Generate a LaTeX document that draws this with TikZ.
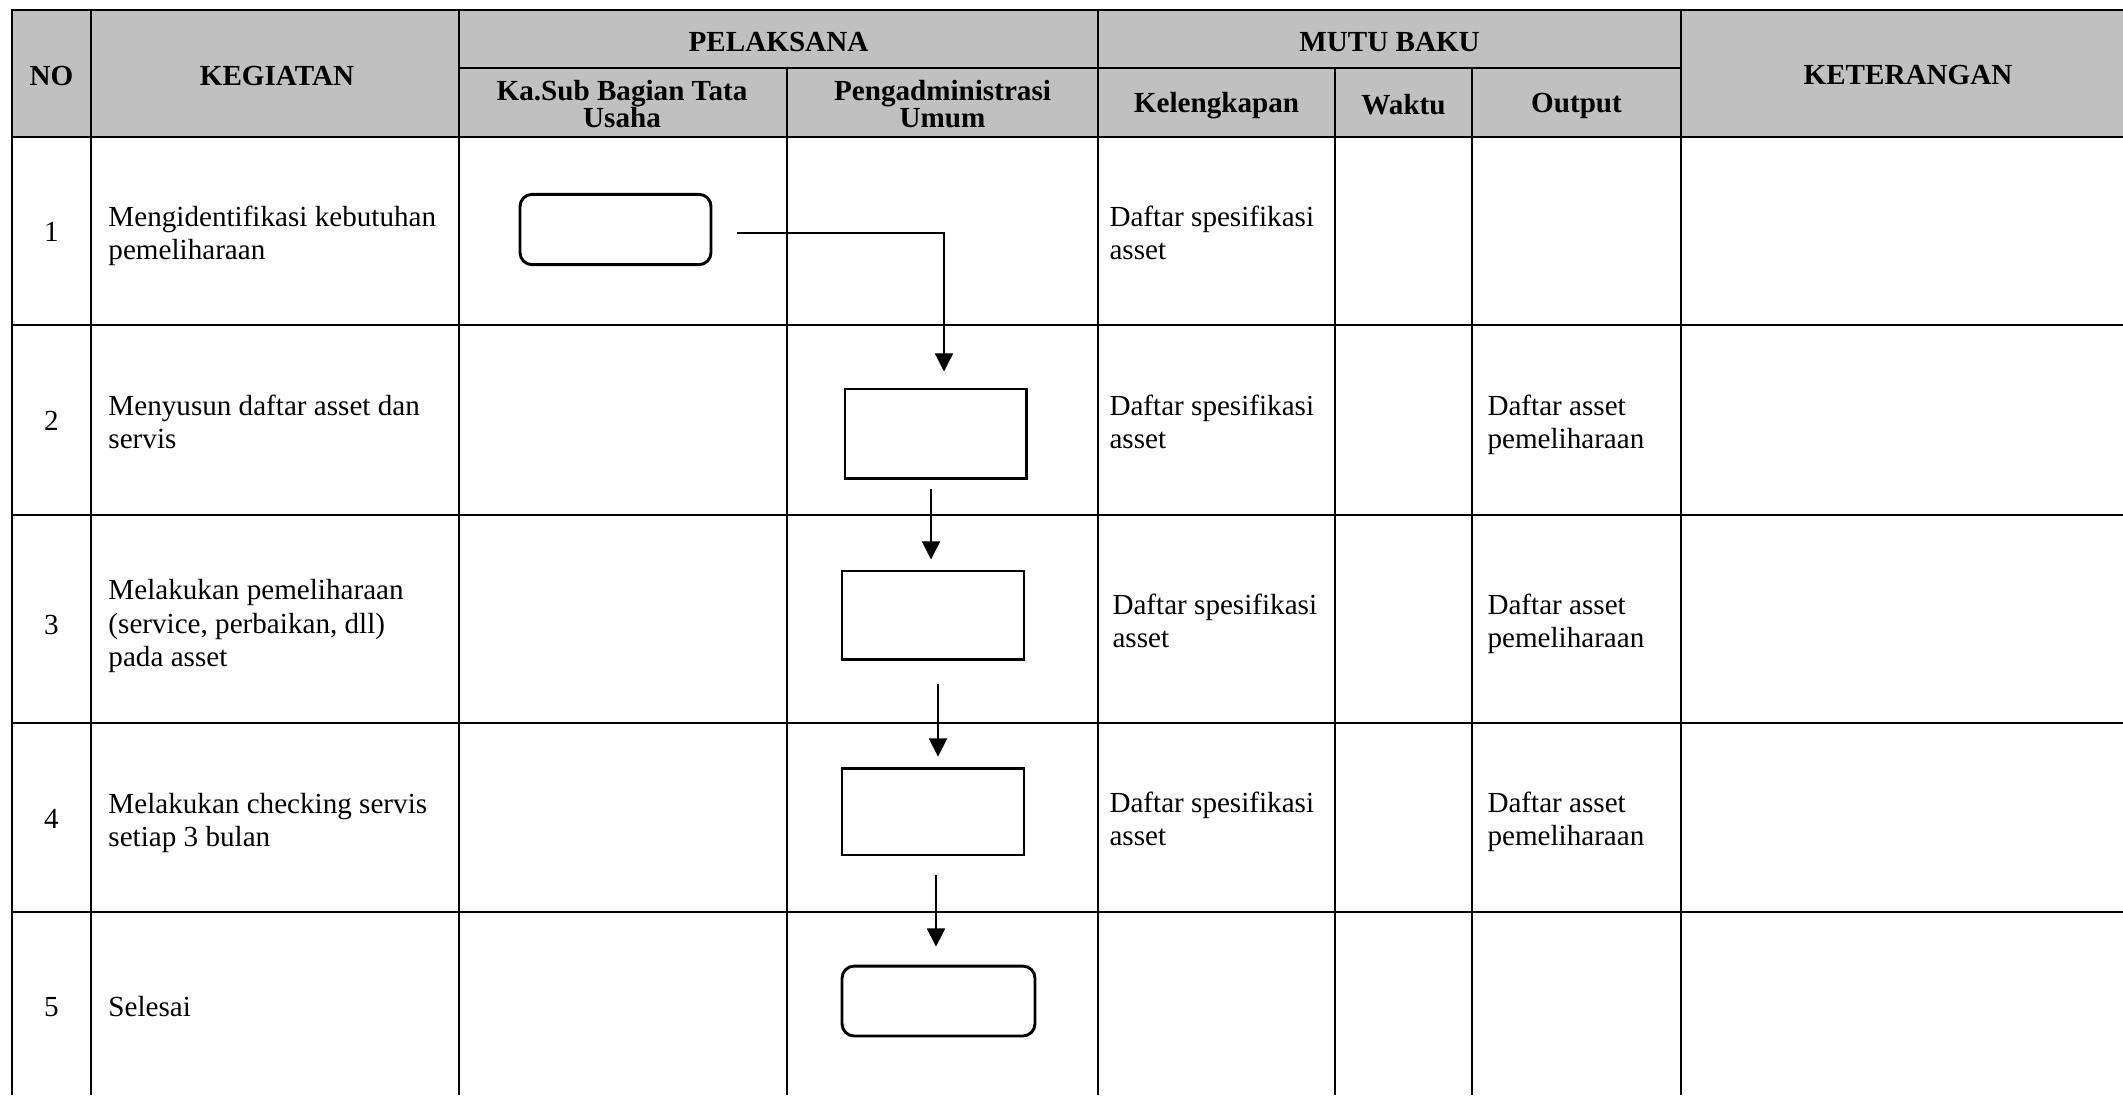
\documentclass[tikz,border=0pt]{standalone}
\usepackage{fontspec}
\setmainfont{Liberation Serif}
\usetikzlibrary{calc,arrows.meta}
\begin{document}
\begin{tikzpicture}[x=0.412pt,y=-0.412pt,
  font=\fontsize{12}{13.8}\selectfont,
  gridline/.style={line width=1pt},
  hdr/.style={font=\fontsize{12}{11.4}\selectfont\bfseries, align=center, inner sep=0pt},
  bodytxt/.style={align=left, anchor=west, inner sep=0pt},
  numtxt/.style={inner sep=0pt},
  procbox/.style={draw, line width=1.2pt, minimum width=75pt, minimum height=36.3pt, inner sep=0pt},
  termbox/.style={draw, line width=1.2pt, rounded corners=5pt, minimum height=29pt, inner sep=0pt},
  flow/.style={line width=0.5pt, -{Triangle[length=7.5pt,width=7.5pt]}}]
\useasboundingbox (0,0) rectangle (2123,1095);
% header background
\fill[fill={rgb,255:red,192;green,192;blue,192}] (12,10) rectangle (2123,137);
% grid lines
\draw[gridline] (2123,10) -- (12,10) -- (12,1095);
\draw[gridline] (12,137) -- (2123,137);
\draw[gridline] (459,68) -- (1681,68);
\foreach \y in {325,515,723,912} \draw[gridline] (12,\y) -- (2123,\y);
\foreach \x in {91,459,1098,1681} \draw[gridline] (\x,10) -- (\x,1095);
\foreach \x in {787,1335,1472} \draw[gridline] (\x,68) -- (\x,1095);
% header text
\node[hdr] (hno) at (51.5,76) {NO};
\node[hdr] (hkeg) at (277,76) {KEGIATAN};
\node[hdr] (hpel) at (778.5,42) {PELAKSANA};
\node[hdr] (hmutu) at (1389.5,42) {MUTU BAKU};
\node[hdr] (hket) at (1908,75) {KETERANGAN};
\node[hdr] (hkasub) at (622,104) {Ka.Sub Bagian Tata\\Usaha};
\node[hdr] (hpeng) at (942.5,104) {Pengadministrasi\\Umum};
\node[hdr] (hkel) at (1216.5,106) {Kelengkapan};
\node[hdr] (hwak) at (1403.5,105) {Waktu};
\node[hdr] (hout) at (1576.5,106) {Output};
% numbers
\node[numtxt] (n1) at (51.5,232) {1};
\node[numtxt] (n2) at (51.5,421) {2};
\node[numtxt] (n3) at (51.5,625) {3};
\node[numtxt] (n4) at (51.5,819) {4};
\node[numtxt] (n5) at (51.5,1007) {5};
% activities
\node[bodytxt] (k1) at (108,236) {Mengidentifikasi kebutuhan\\pemeliharaan};
\node[bodytxt] (k2) at (108,422) {Menyusun daftar asset dan\\servis};
\node[bodytxt] (k3) at (108,626) {Melakukan pemeliharaan\\(service, perbaikan, dll)\\pada asset};
\node[bodytxt] (k4) at (108,823) {Melakukan checking servis\\setiap 3 bulan};
\node[bodytxt] (k5) at (108,1007) {Selesai};
% kelengkapan
\node[bodytxt] (l1) at (1109,233) {Daftar spesifikasi\\asset};
\node[bodytxt] (l2) at (1109,422) {Daftar spesifikasi\\asset};
\node[bodytxt] (l3) at (1112,621) {Daftar spesifikasi\\asset};
\node[bodytxt] (l4) at (1109,819) {Daftar spesifikasi\\asset};
% output
\node[bodytxt] (o2) at (1487,425) {Daftar asset\\pemeliharaan};
\node[bodytxt] (o3) at (1487,624) {Daftar asset\\pemeliharaan};
\node[bodytxt] (o4) at (1487,822) {Daftar asset\\pemeliharaan};
% flow shapes
\node[termbox, minimum width=78.7pt] (b1) at (615.5,229.5) {};
\node[procbox, minimum width=74.6pt, minimum height=36.7pt] (b2) at (935.5,433.5) {};
\node[procbox] (b3) at (933,615) {};
\node[procbox, minimum height=35.8pt] (b4) at (933,811.5) {};
\node[termbox, minimum width=79.5pt, minimum height=28.8pt] (b5) at (938.5,1001) {};
% connectors
\coordinate (c1s) at ($(b1.east)+(25,3.5)$);
\coordinate (c1e) at ($(b2.north)+(8.5,-16)$);
\draw[flow] (c1s) -| (c1e);
\coordinate (c2s) at ($(b2.south)+(-4.5,9)$);
\coordinate (c2e) at ($(b3.north)+(-2,-10)$);
\draw[flow] (c2s) -- (c2e);
\coordinate (c3s) at ($(b3.south)+(5,23)$);
\coordinate (c3e) at ($(b4.north)+(5,-10)$);
\draw[flow] (c3s) -- (c3e);
\coordinate (c4s) at ($(b4.south)+(3,18.5)$);
\coordinate (c4e) at ($(b5.north)+(-2.5,-18)$);
\draw[flow] (c4s) -- (c4e);
\end{tikzpicture}
\end{document}
